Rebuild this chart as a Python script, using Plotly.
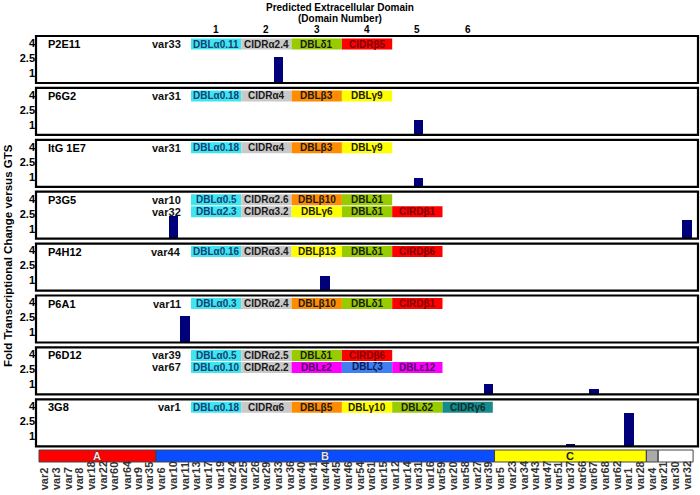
import plotly.graph_objects as go

# ---------------- data ----------------
categories = ["var2", "var3", "var7", "var8", "var18", "var22", "var60", "var64", "var9", "var35",
              "var6", "var10", "var11", "var13", "var17", "var19", "var24", "var25", "var26", "var29",
              "var33", "var36", "var40", "var41", "var44", "var45", "var46", "var54", "var61", "var15",
              "var12", "var14", "var31", "var16", "var59", "var20", "var58", "var27", "var39",
              "var5", "var23", "var34", "var43", "var47", "var51", "var37", "var66", "var67", "var68",
              "var62", "var1", "var28",
              "var4",
              "var21", "var30", "var32"]
group_labels = ["A", "B", "C", "", ""]
group_sizes = [10, 29, 13, 1, 3]

panel_names = ["P2E11", "P6G2", "ItG 1E7", "P3G5", "P4H12", "P6A1", "P6D12", "3G8"]
bar_vars = [["var33"], ["var31"], ["var31"], ["var10", "var32"], ["var44"], ["var11"],
            ["var39", "var67"], ["var37", "var1"]]
bar_values = [[2.6], [1.5], [0.9], [2.3, 1.9], [1.5], [2.7], [1.0, 0.5], [0.2, 3.3]]

tick_values = [1, 2.5, 4]
tick_labels = ["1", "2.5", "4"]
domain_numbers = ["1", "2", "3", "4", "5", "6"]

gene_names = [["var33"], ["var31"], ["var31"], ["var10", "var32"], ["var44"], ["var11"],
              ["var39", "var67"], ["var1"]]
domain_names = [
    [["DBLα0.11", "CIDRα2.4", "DBLδ1", "CIDRβ5"]],
    [["DBLα0.18", "CIDRα4", "DBLβ3", "DBLγ9"]],
    [["DBLα0.18", "CIDRα4", "DBLβ3", "DBLγ9"]],
    [["DBLα0.5", "CIDRα2.6", "DBLβ10", "DBLδ1"],
     ["DBLα2.3", "CIDRα3.2", "DBLγ6", "DBLδ1", "CIRDβ1"]],
    [["DBLα0.16", "CIDRα3.4", "DBLβ13", "DBLδ1", "CIRDβ6"]],
    [["DBLα0.3", "CIDRα2.4", "DBLβ10", "DBLδ1", "CIRDβ1"]],
    [["DBLα0.5", "CIDRα2.5", "DBLδ1", "CIRDβ6"],
     ["DBLα0.10", "CIDRα2.2", "DBLε2", "DBLζ3", "DBLε12"]],
    [["DBLα0.18", "CIDRα6", "DBLβ5", "DBLγ10", "DBLδ2", "CIDRγ6"]],
]
domain_classes = [
    [["a", "ca", "d", "cb"]],
    [["a", "ca", "b", "g"]],
    [["a", "ca", "b", "g"]],
    [["a", "ca", "b", "d"], ["a", "ca", "g", "d", "cb"]],
    [["a", "ca", "g", "d", "cb"]],
    [["a", "ca", "b", "d", "cb"]],
    [["a", "ca", "d", "cb"], ["a", "ca", "e", "z", "e"]],
    [["a", "ca", "b", "g", "d", "cg"]],
]

# ---------------- styling ----------------
FONT = "Liberation Sans, Arial, sans-serif"
class_fill = {"a": "#3ee6ee", "ca": "#c9c9c9", "b": "#ff8c00", "g": "#ffff00", "d": "#99cc00",
              "cb": "#ff0000", "e": "#ff00ff", "z": "#3f7fef", "cg": "#178a8a"}
class_text = {"a": "#173f78", "ca": "#1a1a1a", "b": "#1a1a1a", "g": "#1a1a1a", "d": "#1a1a1a",
              "cb": "#7a0000", "e": "#4b0060", "z": "#0a1a5a", "cg": "#0b2e2e"}
group_fill = ["#ff0000", "#0a4cff", "#ffff00", "#aaaaaa", "#ffffff"]

W, H = 700, 495
ML, MR, MT, MB = 36, 2, 36, 33
PW, PH = W - ML - MR, H - MT - MB


def fx(px):
    return (px - ML) / PW


def fy(py):
    return (H - MB - py) / PH


def txt(x, y, text, size, color="black", xanchor="center", yanchor="middle", xref="paper", **kw):
    return dict(x=x, xref=xref, y=y, yref="paper", text=text, showarrow=False,
                xanchor=xanchor, yanchor=yanchor,
                font=dict(size=size, weight="bold", family=FONT, color=color), **kw)


panel_tops = [36 + i * 51.9 for i in range(8)]
panel_h = 47
band_top, band_bot = 450, 462
col_left, col_w = 191, 50.3

fig = go.Figure()
layout = dict(
    width=W, height=H, margin=dict(l=ML, r=MR, t=MT, b=MB),
    paper_bgcolor="white", plot_bgcolor="white", showlegend=False,
    font=dict(family=FONT, color="black"),
    xaxis=dict(domain=[0, 1], anchor="y9", type="category", categoryorder="array",
               categoryarray=categories, range=[-0.757, 55.92], showticklabels=False,
               showgrid=False, zeroline=False, showline=False, ticks=""),
    yaxis9=dict(domain=[fy(band_bot), fy(band_top)], anchor="x", range=[0, 1], visible=False),
)
shapes, annotations = [], []

# colour band of var groups
band_colors = []
for gi, n in enumerate(group_sizes):
    band_colors += [group_fill[gi]] * n
fig.add_trace(go.Bar(x=categories, y=[1] * len(categories), xaxis="x", yaxis="y9", width=1,
                     marker=dict(color=band_colors, line=dict(width=0)), hoverinfo="skip"))
start = 0
for gi, n in enumerate(group_sizes):
    shapes.append(dict(type="rect", xref="x", yref="paper", x0=start - 0.5, x1=start + n - 0.5,
                       y0=fy(band_bot), y1=fy(band_top), line=dict(color="#444", width=1)))
    if group_labels[gi]:
        light = group_labels[gi] in ("A", "B")
        a = txt(start + (n - 1) / 2, fy((band_top + band_bot) / 2), group_labels[gi], 11,
                color="#e8e8e8" if light else "#222", xref="x")
        if light:
            a["font"]["shadow"] = "0px 0px 1px #000"
        annotations.append(a)
    start += n

# x labels (bottom aligned, vertical)
for c in categories:
    annotations.append(txt(c, fy(492), c, 11, color="#333", yanchor="bottom", xref="x",
                           textangle=-90))

for i in range(8):
    top = panel_tops[i]
    ax = f"yaxis{i + 1}" if i else "yaxis"
    layout[ax] = dict(domain=[fy(top + panel_h), fy(top)], anchor="x", range=[0, 4.7],
                      tickvals=tick_values, ticktext=tick_labels, showgrid=False, zeroline=False,
                      showline=False, ticks="",
                      tickfont=dict(size=11, weight="bold", family=FONT, color="black"))
    fig.add_trace(go.Bar(x=bar_vars[i], y=bar_values[i], xaxis="x",
                         yaxis=f"y{i + 1}" if i else "y", width=0.82,
                         marker=dict(color="#00007a", line=dict(width=0)), hoverinfo="skip"))
    shapes.append(dict(type="rect", xref="paper", yref="paper", x0=0, x1=1,
                       y0=fy(top + panel_h), y1=fy(top), line=dict(color="black", width=2.2),
                       layer="above"))
    annotations.append(txt(fx(46), fy(top + 8), panel_names[i], 11, xanchor="left"))
    for r, g in enumerate(gene_names[i]):
        cy = top + 8 + r * 12
        annotations.append(txt(fx(183), fy(cy), g, 11, color="#111", xanchor="right"))
        for k, (nm, cl) in enumerate(zip(domain_names[i][r], domain_classes[i][r])):
            x0 = col_left + k * col_w
            shapes.append(dict(type="rect", xref="paper", yref="paper", x0=fx(x0),
                               x1=fx(x0 + col_w), y0=fy(cy + 5.5), y1=fy(cy - 5.5),
                               fillcolor=class_fill[cl], line=dict(width=0), layer="above"))
            annotations.append(txt(fx(x0 + col_w / 2), fy(cy), nm, 10, color=class_text[cl]))

# header
annotations.append(txt(fx(340), fy(7), "Predicted Extracellular Domain", 10))
annotations.append(txt(fx(340), fy(18), "(Domain Number)", 10))
for k, d in enumerate(domain_numbers):
    annotations.append(txt(fx(col_left + (k + 0.5) * col_w), fy(29), d, 10))
annotations.append(txt(fx(8), fy(256), "Fold Transcriptional Change versus GTS", 11.5,
                       textangle=-90))

layout["shapes"] = shapes
layout["annotations"] = annotations
layout["bargap"] = 0
fig.update_layout(**layout)
fig.write_html("out.html", config={"displayModeBar": False},
               post_script="document.body.style.margin='0';document.body.style.padding='0';")
